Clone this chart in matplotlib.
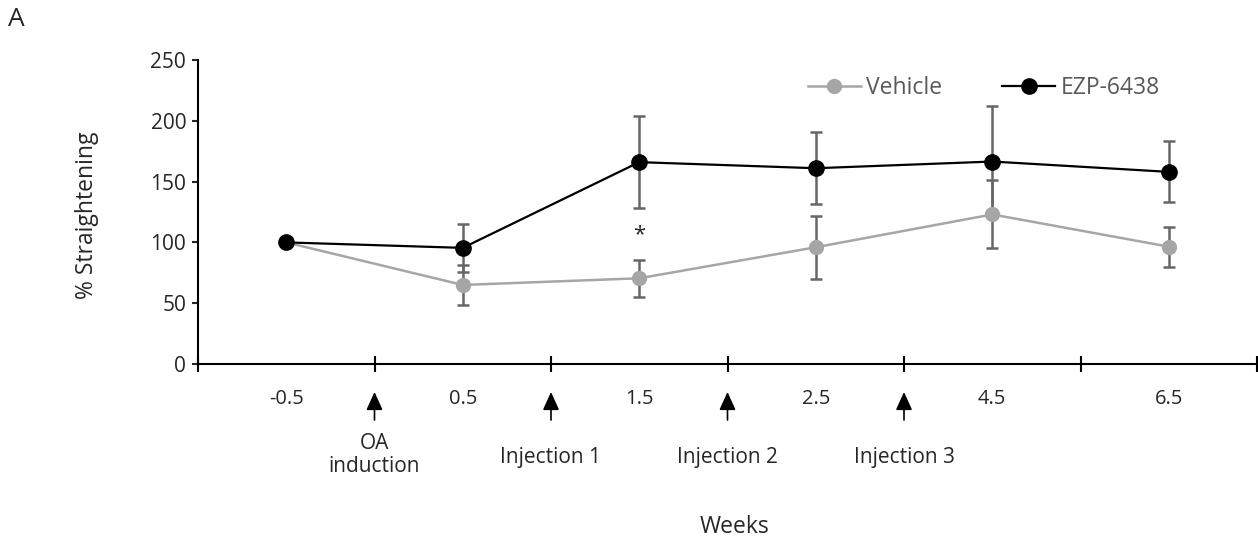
import matplotlib
matplotlib.use("Agg")
import matplotlib.pyplot as plt

plt.rcParams['font.family'] = ['Open Sans', 'DejaVu Sans']

categories = ["-0.5", "0.5", "1.5", "2.5", "4.5", "6.5"]
vehicle = [100, 65, 70.5, 96, 123, 96.5]
vehicle_err = [0, 16.5, 15, 26, 28, 16.5]
ezp = [100, 95.5, 166, 161, 166.5, 158]
ezp_err = [0, 20, 38, 29.5, 45.5, 25]
event_labels = ["OA\ninduction", "Injection 1", "Injection 2", "Injection 3"]
event_pos = [0.5, 1.5, 2.5, 3.5]
yticks = [0, 50, 100, 150, 200, 250]

W, H = 1258, 544
fig = plt.figure(figsize=(W / 100, H / 100), dpi=100)
ax = fig.add_axes([198 / W, 1 - 364 / H, (1257 - 198) / W, (364 - 60) / H])

x = list(range(len(categories)))
err_color = '#666666'
veh_color = '#a6a6a6'
txt = '#262626'

ax.errorbar(x[1:], vehicle[1:], yerr=vehicle_err[1:], fmt='none', ecolor=err_color,
            elinewidth=1.8, capsize=4.5, capthick=1.8, zorder=2)
ax.errorbar(x[1:], ezp[1:], yerr=ezp_err[1:], fmt='none', ecolor=err_color,
            elinewidth=1.8, capsize=4.5, capthick=1.8, zorder=2)
l1, = ax.plot(x, vehicle, '-o', color=veh_color, lw=1.8, markersize=10, zorder=3, label='Vehicle')
l2, = ax.plot(x, ezp, '-o', color='black', lw=1.6, markersize=11, zorder=4, label='EZP-6438')

ax.text(2, 106, '*', ha='center', va='center', fontsize=16, color=txt)

ax.set_xlim(-0.5, len(categories) - 0.5)
ax.set_ylim(0, 250)
ax.set_yticks(yticks)
ax.tick_params(axis='y', labelsize=15, length=4.5, width=1.5, pad=4, colors=txt)
ax.set_xticks([i - 0.5 for i in range(len(categories) + 1)])
ax.set_xticklabels([])
ax.set_xticks(x, minor=True)
ax.set_xticklabels(categories, minor=True)
ax.tick_params(axis='x', which='major', direction='inout', length=12, width=1.5, colors='black')
ax.tick_params(axis='x', which='minor', length=0, pad=18, labelsize=14.5, labelcolor=txt)
for s in ['top', 'right']:
    ax.spines[s].set_visible(False)
for s in ['left', 'bottom']:
    ax.spines[s].set_linewidth(1.5)

# arrows and event labels
for xp, lab in zip(event_pos, event_labels):
    ax.annotate('', xy=(xp, -(392 - 364) / 304), xytext=(xp, -(420 - 364) / 304),
                xycoords=('data', 'axes fraction'), textcoords=('data', 'axes fraction'),
                arrowprops=dict(arrowstyle='-|>,head_length=0.55,head_width=0.25', color='black',
                                lw=1.2, mutation_scale=20, shrinkA=0, shrinkB=0),
                annotation_clip=False)
    yc = 455 if '\n' in lab else 458
    ax.text(xp, -(yc - 364) / 304, lab, transform=ax.get_xaxis_transform(), ha='center', va='center',
            fontsize=15, color=txt, linespacing=1.15)

fig.text(735 / W, 1 - 527 / H, 'Weeks', ha='center', va='center', fontsize=16.5, color=txt)
fig.text(87 / W, 1 - 215 / H, '% Straightening', ha='center', va='center', rotation=90,
         fontsize=16.5, color=txt)
fig.text(16 / W, 1 - 20 / H, 'A', ha='center', va='center', fontsize=19, color=txt)

leg = ax.legend(handles=[l1, l2], loc='center left', bbox_to_anchor=(808 / W, 1 - 88 / H),
                bbox_transform=fig.transFigure, ncol=2, frameon=False, fontsize=16.5,
                handlelength=2.3, handletextpad=0.25, columnspacing=2.6, borderaxespad=0, borderpad=0)
for t in leg.get_texts():
    t.set_color('#595959')

fig.savefig('out.png', dpi=100)
